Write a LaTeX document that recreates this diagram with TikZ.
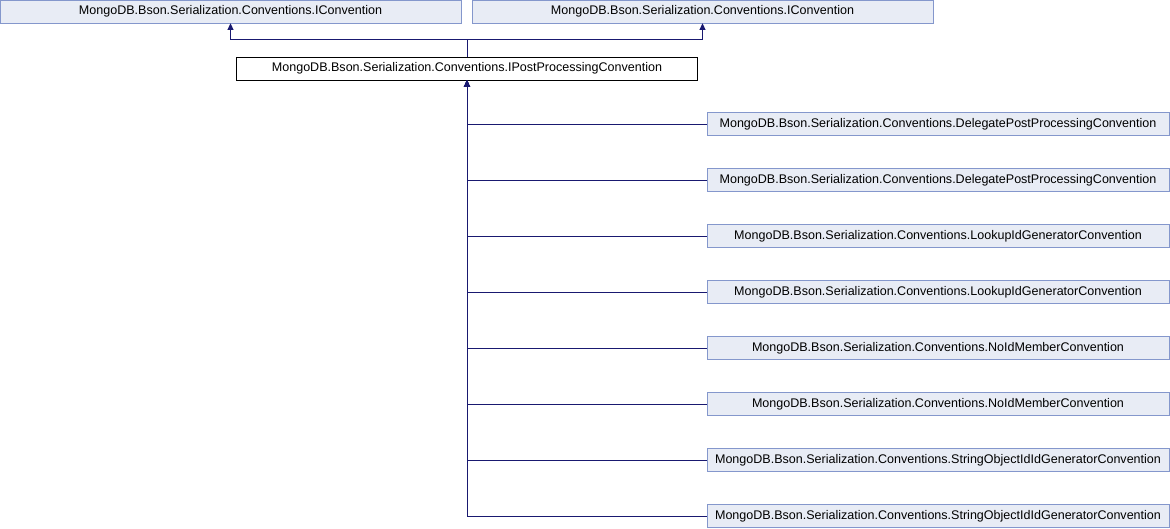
\documentclass[tikz,border=0pt]{standalone}
\usepackage{fontspec}
\setmainfont{Liberation Sans}
\usepackage{xcolor}
\usepackage{tikz}
\usetikzlibrary{arrows.meta,positioning}
\definecolor{boxfill}{HTML}{E8ECF5}
\definecolor{boxline}{HTML}{8497CC}
\definecolor{edgeblue}{HTML}{191970}

\begin{document}
\begin{tikzpicture}[x=0.75pt,y=-0.75pt,
	classbox/.style={draw=boxline,fill=boxfill,minimum height=17.25pt,inner sep=0pt,font=\fontsize{9.4}{11}\selectfont},
	mainbox/.style={draw=black,fill=white,minimum height=17.25pt,minimum width=345.75pt,inner sep=0pt,font=\fontsize{9.4}{11}\selectfont},
	inherit/.style={draw=edgeblue,line width=0.75pt}]
		\useasboundingbox (0,0) rectangle (1170,528);
		\node[classbox,minimum width=345.75pt] (base1) at (230.5,11.5) {MongoDB.Bson.Serialization.Conventions.IConvention};
		\node[classbox,minimum width=345.75pt] (base2) at (702.5,11.5) {MongoDB.Bson.Serialization.Conventions.IConvention};
		\node[mainbox] (post) at (467,68.5) {MongoDB.Bson.Serialization.Conventions.IPostProcessingConvention};
		\draw[inherit,-{Triangle[length=5pt,width=4.5pt]}] (post.north) -- ++(0,-17) -| (base1.south);
		\draw[inherit,-{Triangle[length=5pt,width=4.5pt]}] (post.north) -- ++(0,-17) -| (base2.south);
		\foreach \name [count=\i from 0] in {DelegatePostProcessingConvention,DelegatePostProcessingConvention,LookupIdGeneratorConvention,LookupIdGeneratorConvention,NoIdMemberConvention,NoIdMemberConvention,StringObjectIdIdGeneratorConvention,StringObjectIdIdGeneratorConvention}{
			\node[classbox,minimum width=346.5pt] (child\i) at (938,124+56*\i) {MongoDB.Bson.Serialization.Conventions.\name};
			\draw[inherit,{Triangle[length=5pt,width=4.5pt]}-] (post.south) |- (child\i.west);
		}
	\end{tikzpicture}
\end{document}
